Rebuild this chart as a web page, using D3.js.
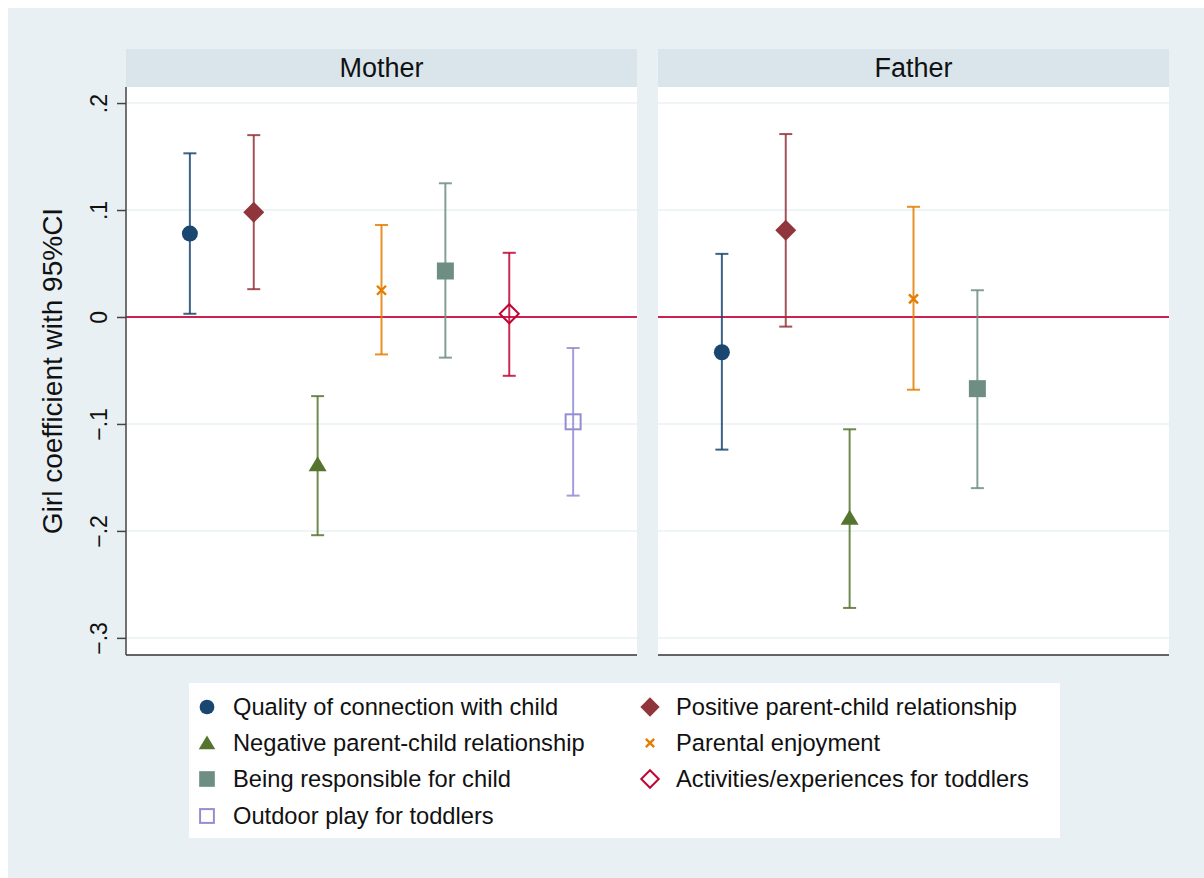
<!DOCTYPE html>
<html>
<head>
<meta charset="utf-8">
<script src="https://cdn.jsdelivr.net/npm/d3@7"></script>
<style>
  html, body { margin: 0; padding: 0; background: #ffffff; }
  svg { display: block; font-family: "Liberation Sans", Arial, sans-serif; }
</style>
</head>
<body>
<svg id="chart" width="1204" height="878"></svg>
<script>
// Outcome measures (one marker/colour each)
const outcomes = [
  "Quality of connection with child",
  "Positive parent-child relationship",
  "Negative parent-child relationship",
  "Parental enjoyment",
  "Being responsible for child",
  "Activities/experiences for toddlers",
  "Outdoor play for toddlers"
];
const panels = ["Mother", "Father"];

// Girl coefficient and 95% CI bounds, mother models
const motherCoef = [0.078, 0.098, -0.138, 0.025, 0.043, 0.003, -0.098];
const motherLo   = [0.003, 0.026, -0.204, -0.035, -0.038, -0.055, -0.167];
const motherHi   = [0.153, 0.170, -0.074, 0.086, 0.125, 0.060, -0.029];

// Father models (first five outcomes only)
const fatherCoef = [-0.033, 0.081, -0.188, 0.017, -0.067];
const fatherLo   = [-0.124, -0.009, -0.272, -0.068, -0.160];
const fatherHi   = [0.059, 0.171, -0.105, 0.103, 0.025];

const yTicks = [-0.3, -0.2, -0.1, 0, 0.1, 0.2];
const yTitle = "Girl coefficient with 95%CI";

const colors = ["#1a476f", "#90353b", "#55752f", "#e37e00", "#6e8e84", "#c10534", "#938dd2"];
const shapes = ["circle", "diamond", "triangle", "x", "square", "diamondHollow", "squareHollow"];

const svg = d3.select("#chart");

// graph region background
svg.append("rect").attr("x", 8).attr("y", 8).attr("width", 1196).attr("height", 870)
  .attr("fill", "#e8f0f3");

const plotTop = 87, plotBottom = 655;
const y = d3.scaleLinear().domain([-0.316, 0.215]).range([plotBottom, plotTop]);
const panelLeft = [126, 658];
const panelW = 511;

const fmt = v => {
  if (Math.abs(v) < 1e-9) return "0";
  const s = d3.format(".1f")(v);
  return s.replace("0.", ".");
};

function marker(g, shape, cx, cy, color, scale = 1) {
  const s = scale;
  if (shape === "circle") {
    g.append("circle").attr("cx", cx).attr("cy", cy).attr("r", 8 * s).attr("fill", color);
  } else if (shape === "diamond") {
    const r = 10.5 * s;
    g.append("path").attr("d", `M${cx},${cy - r}L${cx + r},${cy}L${cx},${cy + r}L${cx - r},${cy}Z`).attr("fill", color);
  } else if (shape === "diamondHollow") {
    const r = 9.5 * s;
    g.append("path").attr("d", `M${cx},${cy - r}L${cx + r},${cy}L${cx},${cy + r}L${cx - r},${cy}Z`)
      .attr("fill", "none").attr("stroke", color).attr("stroke-width", 2);
  } else if (shape === "triangle") {
    const w = 9 * s, h = 15 * s;
    g.append("path").attr("d", `M${cx},${cy - h * 0.55}L${cx + w},${cy + h * 0.45}L${cx - w},${cy + h * 0.45}Z`).attr("fill", color);
  } else if (shape === "square") {
    const r = 8.5 * s;
    g.append("rect").attr("x", cx - r).attr("y", cy - r).attr("width", 2 * r).attr("height", 2 * r).attr("fill", color);
  } else if (shape === "squareHollow") {
    const r = 7.5 * s;
    g.append("rect").attr("x", cx - r).attr("y", cy - r).attr("width", 2 * r).attr("height", 2 * r)
      .attr("fill", "none").attr("stroke", color).attr("stroke-width", 2);
  } else if (shape === "x") {
    const r = 4.5 * s;
    g.append("path").attr("d", `M${cx - r},${cy - r}L${cx + r},${cy + r}M${cx - r},${cy + r}L${cx + r},${cy - r}`)
      .attr("stroke", color).attr("stroke-width", 2.4).attr("fill", "none");
  }
}

const panelData = [
  { coef: motherCoef, lo: motherLo, hi: motherHi },
  { coef: fatherCoef, lo: fatherLo, hi: fatherHi }
];

panels.forEach((name, p) => {
  const x0 = panelLeft[p];
  const x = d3.scaleLinear().domain([0, 8]).range([x0, x0 + panelW]);
  const g = svg.append("g");

  // header strip
  g.append("rect").attr("x", x0).attr("y", 49).attr("width", panelW).attr("height", plotTop - 49)
    .attr("fill", "#d9e5eb");
  g.append("text").attr("x", x0 + panelW / 2).attr("y", 77).attr("text-anchor", "middle")
    .attr("font-size", 27).attr("fill", "#111").text(name);

  // plot region
  g.append("rect").attr("x", x0).attr("y", plotTop).attr("width", panelW).attr("height", plotBottom - plotTop)
    .attr("fill", "#ffffff");

  // gridlines
  g.selectAll(".grid").data(yTicks).join("line")
    .attr("x1", x0).attr("x2", x0 + panelW)
    .attr("y1", d => y(d)).attr("y2", d => y(d))
    .attr("stroke", "#eaf1f4").attr("stroke-width", 1.5);

  // reference line at zero
  g.append("line").attr("x1", x0).attr("x2", x0 + panelW).attr("y1", y(0)).attr("y2", y(0))
    .attr("stroke", "#cd2250").attr("stroke-width", 2);

  // x-axis baseline
  g.append("line").attr("x1", x0).attr("x2", x0 + panelW).attr("y1", plotBottom).attr("y2", plotBottom)
    .attr("stroke", "#333").attr("stroke-width", 1.5);

  const d = panelData[p];
  d.coef.forEach((c, i) => {
    const cx = x(i + 1);
    const col = colors[i];
    const cap = 6.5;
    g.append("line").attr("x1", cx).attr("x2", cx).attr("y1", y(d.lo[i])).attr("y2", y(d.hi[i]))
      .attr("stroke", col).attr("stroke-width", 2).attr("stroke-opacity", 0.85);
    [d.lo[i], d.hi[i]].forEach(v => {
      g.append("line").attr("x1", cx - cap).attr("x2", cx + cap).attr("y1", y(v)).attr("y2", y(v))
        .attr("stroke", col).attr("stroke-width", 2).attr("stroke-opacity", 0.85);
    });
    marker(g, shapes[i], cx, y(c), col);
  });
});

// y axis on the left panel
const yAxis = d3.axisLeft(y).tickValues(yTicks).tickFormat(fmt).tickSize(9).tickPadding(0);
const ax = svg.append("g").attr("transform", `translate(${panelLeft[0]},0)`).call(yAxis);
ax.select(".domain").attr("d", `M0,${plotTop}V${plotBottom}`).attr("stroke", "#444").attr("stroke-width", 1.5);
ax.selectAll(".tick line").attr("stroke", "#444").attr("stroke-width", 1.5);
ax.selectAll(".tick text")
  .attr("font-size", 23).attr("fill", "#111")
  .attr("font-family", "Liberation Sans, Arial, sans-serif")
  .attr("text-anchor", "middle").attr("dy", null).attr("x", null)
  .attr("transform", "translate(-19,0) rotate(-90)");

// y title
svg.append("text").attr("transform", `translate(62,${(plotTop + plotBottom) / 2}) rotate(-90)`)
  .attr("text-anchor", "middle").attr("font-size", 28).attr("fill", "#111").text(yTitle);

// legend
const lg = svg.append("g");
lg.append("rect").attr("x", 189).attr("y", 683).attr("width", 871).attr("height", 155).attr("fill", "#ffffff");
const rowY = [707, 743, 779, 816];
const colX = [207, 650];
outcomes.forEach((name, i) => {
  const col = i % 2, row = Math.floor(i / 2);
  const mx = colX[col], my = rowY[row];
  marker(lg, shapes[i], mx, my, colors[i], 0.92);
  lg.append("text").attr("x", mx + 26).attr("y", my + 8).attr("font-size", 23.7).attr("fill", "#111").text(name);
});
</script>
</body>
</html>
